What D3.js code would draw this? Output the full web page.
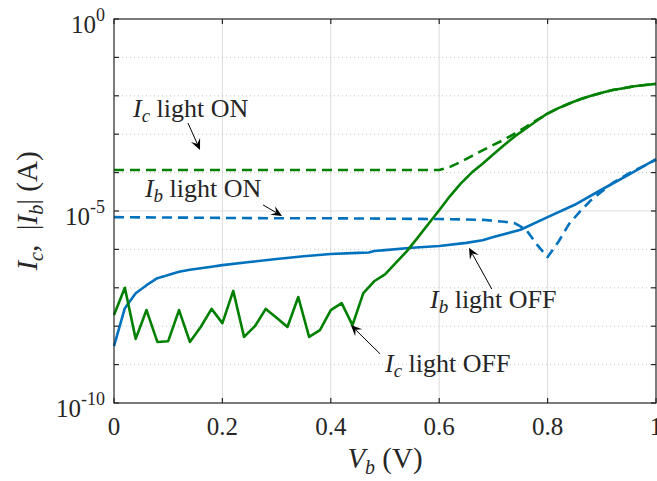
<!DOCTYPE html>
<html><head><meta charset="utf-8">
<script src="https://cdn.jsdelivr.net/npm/d3@7"></script>
<style>
body{margin:0;background:#fff}
svg{display:block}
text{font-family:"Liberation Serif","Times New Roman",serif;fill:#262626}
</style>
</head><body><svg id="c" width="657" height="481"></svg>
<script>
// ---- data (currents in A) ----
const vIcOff = [0,0.02,0.04,0.06,0.08,0.10,0.12,0.14,0.16,0.18,0.20,0.22,0.24,0.26,0.28,0.30,0.32,0.34,0.36,0.38,0.40,0.42,0.44,0.46,0.48,0.50,0.52,0.54,0.56,0.58,0.60,0.62,0.64,0.66,0.68,0.70,0.72,0.74,0.76,0.78,0.80,0.82,0.84,0.86,0.88,0.90,0.92,0.94,0.96,0.98,1.00];
const icOff = [1.95e-8,1.0e-7,4.68e-9,2.63e-8,3.89e-9,4.07e-9,2.63e-8,3.89e-9,9.55e-9,2.82e-8,1.20e-8,8.32e-8,5.25e-9,1.0e-8,2.82e-8,1.66e-8,9.55e-9,5.75e-8,5.25e-9,7.94e-9,2.63e-8,3.98e-8,1.07e-8,7.24e-8,1.48e-7,2.24e-7,4.47e-7,8.91e-7,2.00e-6,4.57e-6,1.05e-5,2.45e-5,5.25e-5,1.0e-4,1.70e-4,3.02e-4,5.25e-4,8.91e-4,1.41e-3,2.24e-3,3.47e-3,4.79e-3,6.31e-3,8.13e-3,1.0e-2,1.20e-2,1.41e-2,1.58e-2,1.78e-2,1.91e-2,2.04e-2];

const vIcOn = [0,0.1,0.2,0.3,0.4,0.5,0.6,0.62,0.64,0.66,0.68,0.70,0.72,0.74,0.76,0.78,0.80,0.82,0.84,0.86,0.88,0.90,0.92,0.94,0.96,0.98,1.00];
const icOn = [1.17e-4,1.17e-4,1.17e-4,1.17e-4,1.17e-4,1.17e-4,1.17e-4,1.41e-4,1.91e-4,2.69e-4,3.80e-4,5.25e-4,7.24e-4,1.05e-3,1.55e-3,2.34e-3,3.39e-3,4.79e-3,6.31e-3,8.13e-3,1.0e-2,1.20e-2,1.41e-2,1.58e-2,1.78e-2,1.91e-2,2.04e-2];

const vIbOff = [0,0.02,0.04,0.06,0.08,0.10,0.12,0.14,0.16,0.18,0.20,0.25,0.30,0.35,0.40,0.45,0.47,0.48,0.50,0.55,0.60,0.65,0.68,0.70,0.75,0.80,0.85,0.90,0.95,1.00];
const ibOff = [3.02e-9,2.95e-8,7.24e-8,1.17e-7,1.78e-7,2.14e-7,2.63e-7,2.95e-7,3.24e-7,3.55e-7,3.89e-7,4.68e-7,5.62e-7,6.61e-7,7.59e-7,8.13e-7,8.32e-7,9.12e-7,9.55e-7,1.10e-6,1.23e-6,1.48e-6,1.74e-6,2.09e-6,3.24e-6,6.92e-6,1.45e-5,3.63e-5,8.91e-5,2.24e-4];

const vIbOn = [0,0.1,0.2,0.3,0.4,0.5,0.6,0.68,0.72,0.74,0.76,0.78,0.80,0.82,0.84,0.86,0.88,0.90,0.92,0.95,1.00];
const ibOn = [6.92e-6,6.76e-6,6.61e-6,6.46e-6,6.46e-6,6.31e-6,6.17e-6,5.89e-6,5.25e-6,4.79e-6,3.31e-6,1.35e-6,6.31e-7,1.58e-6,4.68e-6,9.77e-6,1.91e-5,3.24e-5,5.37e-5,9.55e-5,2.14e-4];

const xTicks = [0,0.2,0.4,0.6,0.8,1];
const xTickLabels = ["0","0.2","0.4","0.6","0.8","1"];
const yMajor = [1,1e-5,1e-10];
const yMajorExp = ["0","-5","-10"];
const yMinor = [1e-1,1e-2,1e-3,1e-4,1e-6,1e-7,1e-8,1e-9];

// annotations: [subscript, text, textV, textI, arrowFromV, arrowFromI, arrowToV, arrowToI]
const notes = [
  ["c"," light ON", 0.035, 2.8e-3, 0.1365, 1.95e-3, 0.1587, 3.89e-4],
  ["b"," light ON", 0.057, 2.3e-5, 0.275, 1.44e-5, 0.310, 7.4e-6],
  ["b"," light OFF",0.583, 2.96e-8,0.697, 9.3e-8, 0.655, 1.1e-6],
  ["c"," light OFF",0.500, 6.4e-10,0.491, 1.9e-9, 0.437, 1.07e-8]
];

const green = "#008000", blue = "#0072BD", axisCol = "#262626";

// ---- drawing ----
const svg = d3.select("#c");
const x = d3.scaleLinear().domain([0,1]).range([114,656]);
const y = d3.scaleLog().domain([1e-10,1]).range([403,19]);
const [x0,x1] = x.range(), [y0,y1] = y.range();

// grid
const g = svg.append("g");
g.selectAll(".gx").data(xTicks.slice(1,-1)).join("line")
  .attr("x1",d=>x(d)).attr("x2",d=>x(d)).attr("y1",y1).attr("y2",y0)
  .attr("stroke","#dcdcdc").attr("stroke-width",1);
g.selectAll(".gym").data(yMinor).join("line")
  .attr("x1",x0).attr("x2",x1).attr("y1",d=>y(d)).attr("y2",d=>y(d))
  .attr("stroke","#c4c4c4").attr("stroke-width",1).attr("stroke-dasharray","1,3");
g.selectAll(".gyM").data(yMajor.slice(1,-1)).join("line")
  .attr("x1",x0).attr("x2",x1).attr("y1",d=>y(d)).attr("y2",d=>y(d))
  .attr("stroke","#dcdcdc").attr("stroke-width",1);

// lines
const line = (vs,is) => d3.line().x(i=>x(vs[i])).y(i=>y(is[i]))(d3.range(vs.length));
const series = [
  [vIcOn, icOn, green, "10,6"],
  [vIbOn, ibOn, blue, "10,6"],
  [vIbOff, ibOff, blue, null],
  [vIcOff, icOff, green, null]
];
series.forEach(([vs,is,c,dash])=>{
  svg.append("path").attr("d",line(vs,is)).attr("fill","none")
    .attr("stroke",c).attr("stroke-width",2.6).attr("stroke-linejoin","round")
    .attr("stroke-dasharray",dash);
});

// axes box + ticks
const ax = svg.append("g").attr("stroke",axisCol).attr("stroke-width",1.2).attr("fill","none");
ax.append("rect").attr("x",x0).attr("y",y1).attr("width",x1-x0).attr("height",y0-y1);
xTicks.forEach(t=>{
  ax.append("line").attr("x1",x(t)).attr("x2",x(t)).attr("y1",y0).attr("y2",y0-5);
  ax.append("line").attr("x1",x(t)).attr("x2",x(t)).attr("y1",y1).attr("y2",y1+5);
});
yMajor.concat(yMinor).forEach(t=>{
  ax.append("line").attr("x1",x0).attr("x2",x0+5).attr("y1",y(t)).attr("y2",y(t));
  ax.append("line").attr("x1",x1).attr("x2",x1-5).attr("y1",y(t)).attr("y2",y(t));
});

// x tick labels
svg.selectAll(".xl").data(xTicks).join("text")
  .attr("x",d=>x(d)).attr("y",y0+32).attr("text-anchor","middle")
  .attr("font-size",25).text((d,i)=>xTickLabels[i]);

// y tick labels
yMajor.forEach((t,i)=>{
  const tx = svg.append("text").attr("x",x0-9).attr("y",y(t)+14)
    .attr("text-anchor","end").attr("font-size",25);
  tx.append("tspan").text("10");
  tx.append("tspan").attr("dy",-12).attr("font-size",18).text(yMajorExp[i]);
});

// axis titles
const xt = svg.append("text").attr("x",(x0+x1)/2).attr("y",468)
  .attr("text-anchor","middle").attr("font-size",29);
xt.append("tspan").attr("font-style","italic").text("V");
xt.append("tspan").attr("font-style","italic").attr("font-size",20).attr("dy",6).text("b");
xt.append("tspan").attr("dy",-6).text(" (V)");

const yt = svg.append("text").attr("transform",`translate(37,${(y0+y1)/2}) rotate(-90)`)
  .attr("text-anchor","middle").attr("font-size",29);
yt.append("tspan").attr("font-style","italic").text("I");
yt.append("tspan").attr("font-style","italic").attr("font-size",20).attr("dy",6).text("c");
yt.append("tspan").attr("dy",-6).text(",\u2002|");
yt.append("tspan").attr("font-style","italic").text("I");
yt.append("tspan").attr("font-style","italic").attr("font-size",20).attr("dy",6).text("b");
yt.append("tspan").attr("dy",-6).text("| (A)");

// annotations
notes.forEach(([sub,txt,tv,ti,fv,fi,av,ai])=>{
  const t = svg.append("text").attr("x",x(tv)).attr("y",y(ti)).attr("font-size",26);
  t.append("tspan").attr("font-style","italic").text("I");
  t.append("tspan").attr("font-style","italic").attr("font-size",19).attr("dy",5).text(sub);
  t.append("tspan").attr("dy",-5).text(txt);
  const xa=x(fv), ya=y(fi), xb=x(av), yb=y(ai);
  const L=Math.hypot(xb-xa,yb-ya), ux=(xb-xa)/L, uy=(yb-ya)/L, nx=-uy, ny=ux;
  const hl=11, hw=5;
  svg.append("line").attr("x1",xa).attr("y1",ya).attr("x2",xb-ux*hl*0.6).attr("y2",yb-uy*hl*0.6)
    .attr("stroke","#000").attr("stroke-width",1);
  const pts=[[xb,yb],[xb-ux*hl+nx*hw,yb-uy*hl+ny*hw],[xb-ux*hl*0.6,yb-uy*hl*0.6],[xb-ux*hl-nx*hw,yb-uy*hl-ny*hw]];
  svg.append("path").attr("d","M"+pts.map(p=>p.join(",")).join("L")+"Z").attr("fill","#000");
});
</script>
</body></html>
